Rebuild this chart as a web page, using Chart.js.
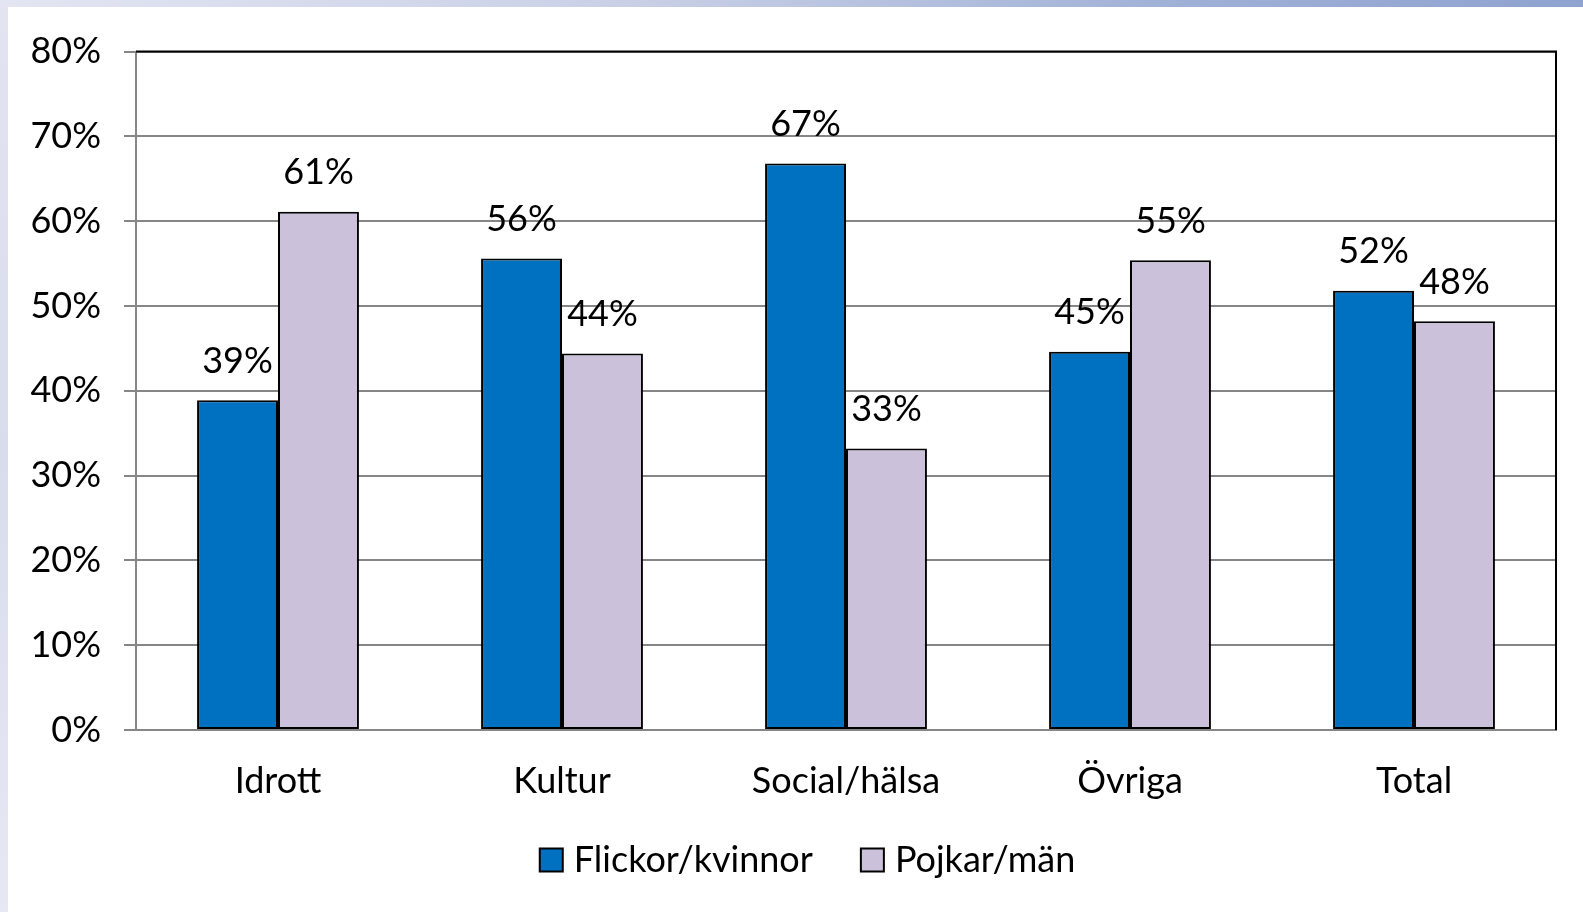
<!DOCTYPE html>
<html>
<head>
<meta charset="utf-8">
<script src="https://cdn.jsdelivr.net/npm/chart.js@4/dist/chart.umd.min.js"></script>
<style>
  html, body { margin: 0; padding: 0; }
  body {
    width: 1583px; height: 912px; overflow: hidden; position: relative;
    background: linear-gradient(180deg, #e2e4f0 0%, #d9dcec 50%, #e6e8f3 100%);
  }
  #topband {
    position: absolute; left: 0; top: 0; width: 1583px; height: 7px;
    background: linear-gradient(90deg, #e3e5f2 0%, #c9d0e6 40%, #9fb0d6 75%, #8fa3d0 100%);
  }
  #panel {
    position: absolute; left: 8px; top: 7px; width: 1575px; height: 905px;
    background: #ffffff;
  }
  #panel canvas { display: block; }
</style>
</head>
<body>
<div id="topband"></div>
<div id="panel"><canvas id="myChart" width="1575" height="905"></canvas></div>
<script>
var categories = ['Idrott', 'Kultur', 'Social/hälsa', 'Övriga', 'Total'];
var flickor = [38.9, 55.6, 66.8, 44.6, 51.8];
var pojkar = [61.1, 44.4, 33.2, 55.4, 48.2];
var yTicks = [0, 10, 20, 30, 40, 50, 60, 70, 80];

var fontFamily = 'Lato, "Liberation Sans", sans-serif';
var fontSize = 36;

// value labels above bars
var valueLabels = {
    id: 'valueLabels',
    afterDatasetsDraw: function (chart) {
        var ctx = chart.ctx;
        ctx.save();
        ctx.font = fontSize + 'px ' + fontFamily;
        ctx.fillStyle = '#000000';
        ctx.textAlign = 'center';
        ctx.textBaseline = 'middle';
        chart.data.datasets.forEach(function (ds, i) {
            chart.getDatasetMeta(i).data.forEach(function (bar, j) {
                ctx.fillText(Math.round(ds.data[j]) + '%', bar.x, bar.y - 39);
            });
        });
        ctx.restore();
    }
};

// black frame on top and right of the plot area
var plotFrame = {
    id: 'plotFrame',
    afterDatasetsDraw: function (chart) {
        var a = chart.chartArea;
        var ctx = chart.ctx;
        ctx.save();
        ctx.strokeStyle = '#000000';
        ctx.lineWidth = 2;
        ctx.beginPath();
        ctx.moveTo(a.left, a.top);
        ctx.lineTo(a.right, a.top);
        ctx.lineTo(a.right, a.bottom);
        ctx.stroke();
        ctx.restore();
    }
};

// legend drawn by hand, small gap between box and text like the original
var bottomLegend = {
    id: 'bottomLegend',
    afterDraw: function (chart) {
        var ctx = chart.ctx;
        var box = 23, gap = 11, spacing = 48;
        var y = 853;
        ctx.save();
        ctx.font = fontSize + 'px ' + fontFamily;
        var items = chart.data.datasets.map(function (ds) {
            return { text: ds.label, color: ds.backgroundColor, w: ctx.measureText(ds.label).width };
        });
        var total = 0;
        items.forEach(function (it, i) {
            total += box + gap + it.w + (i > 0 ? spacing : 0);
        });
        var x = chart.width / 2 + 12 - total / 2;
        ctx.textAlign = 'left';
        ctx.textBaseline = 'middle';
        items.forEach(function (it) {
            ctx.fillStyle = it.color;
            ctx.fillRect(x, y - box / 2, box, box);
            ctx.strokeStyle = '#000000';
            ctx.lineWidth = 2;
            ctx.strokeRect(x, y - box / 2, box, box);
            ctx.fillStyle = '#000000';
            ctx.fillText(it.text, x + box + gap, y);
            x += box + gap + it.w + spacing;
        });
        ctx.restore();
    }
};

var ctx = document.getElementById('myChart');

new Chart(ctx, {
    type: 'bar',
    data: {
        labels: categories,
        datasets: [
            {
                label: 'Flickor/kvinnor',
                data: flickor,
                backgroundColor: '#0070c0',
                borderColor: '#000000',
                borderWidth: 2,
                borderSkipped: false
            },
            {
                label: 'Pojkar/män',
                data: pojkar,
                backgroundColor: '#ccc1da',
                borderColor: '#000000',
                borderWidth: 2,
                borderSkipped: false
            }
        ]
    },
    options: {
        responsive: false,
        animation: false,
        events: [],
        datasets: {
            bar: { categoryPercentage: 0.57, barPercentage: 1.0 }
        },
        layout: {
            padding: { left: 0, top: 41, right: 27, bottom: 0 }
        },
        plugins: {
            legend: { display: false },
            tooltip: { enabled: false }
        },
        scales: {
            x: {
                afterFit: function (scale) {
                    scale.height = 182;
                },
                grid: { display: false, drawTicks: false },
                border: { display: true, color: '#868686', width: 2 },
                ticks: {
                    color: '#000000',
                    font: { family: fontFamily, size: fontSize },
                    padding: 30,
                    maxRotation: 0
                }
            },
            y: {
                min: 0,
                max: 80,
                afterBuildTicks: function (scale) {
                    scale.ticks = yTicks.map(function (v) { return { value: v }; });
                },
                afterFit: function (scale) {
                    scale.width = 128;
                },
                grid: { color: '#868686', lineWidth: 2, tickLength: 12 },
                border: { display: true, color: '#868686', width: 2 },
                ticks: {
                    color: '#000000',
                    font: { family: fontFamily, size: fontSize },
                    padding: 23,
                    callback: function (v) { return v + '%'; }
                }
            }
        }
    },
    plugins: [valueLabels, plotFrame, bottomLegend]
});
</script>
</body>
</html>
